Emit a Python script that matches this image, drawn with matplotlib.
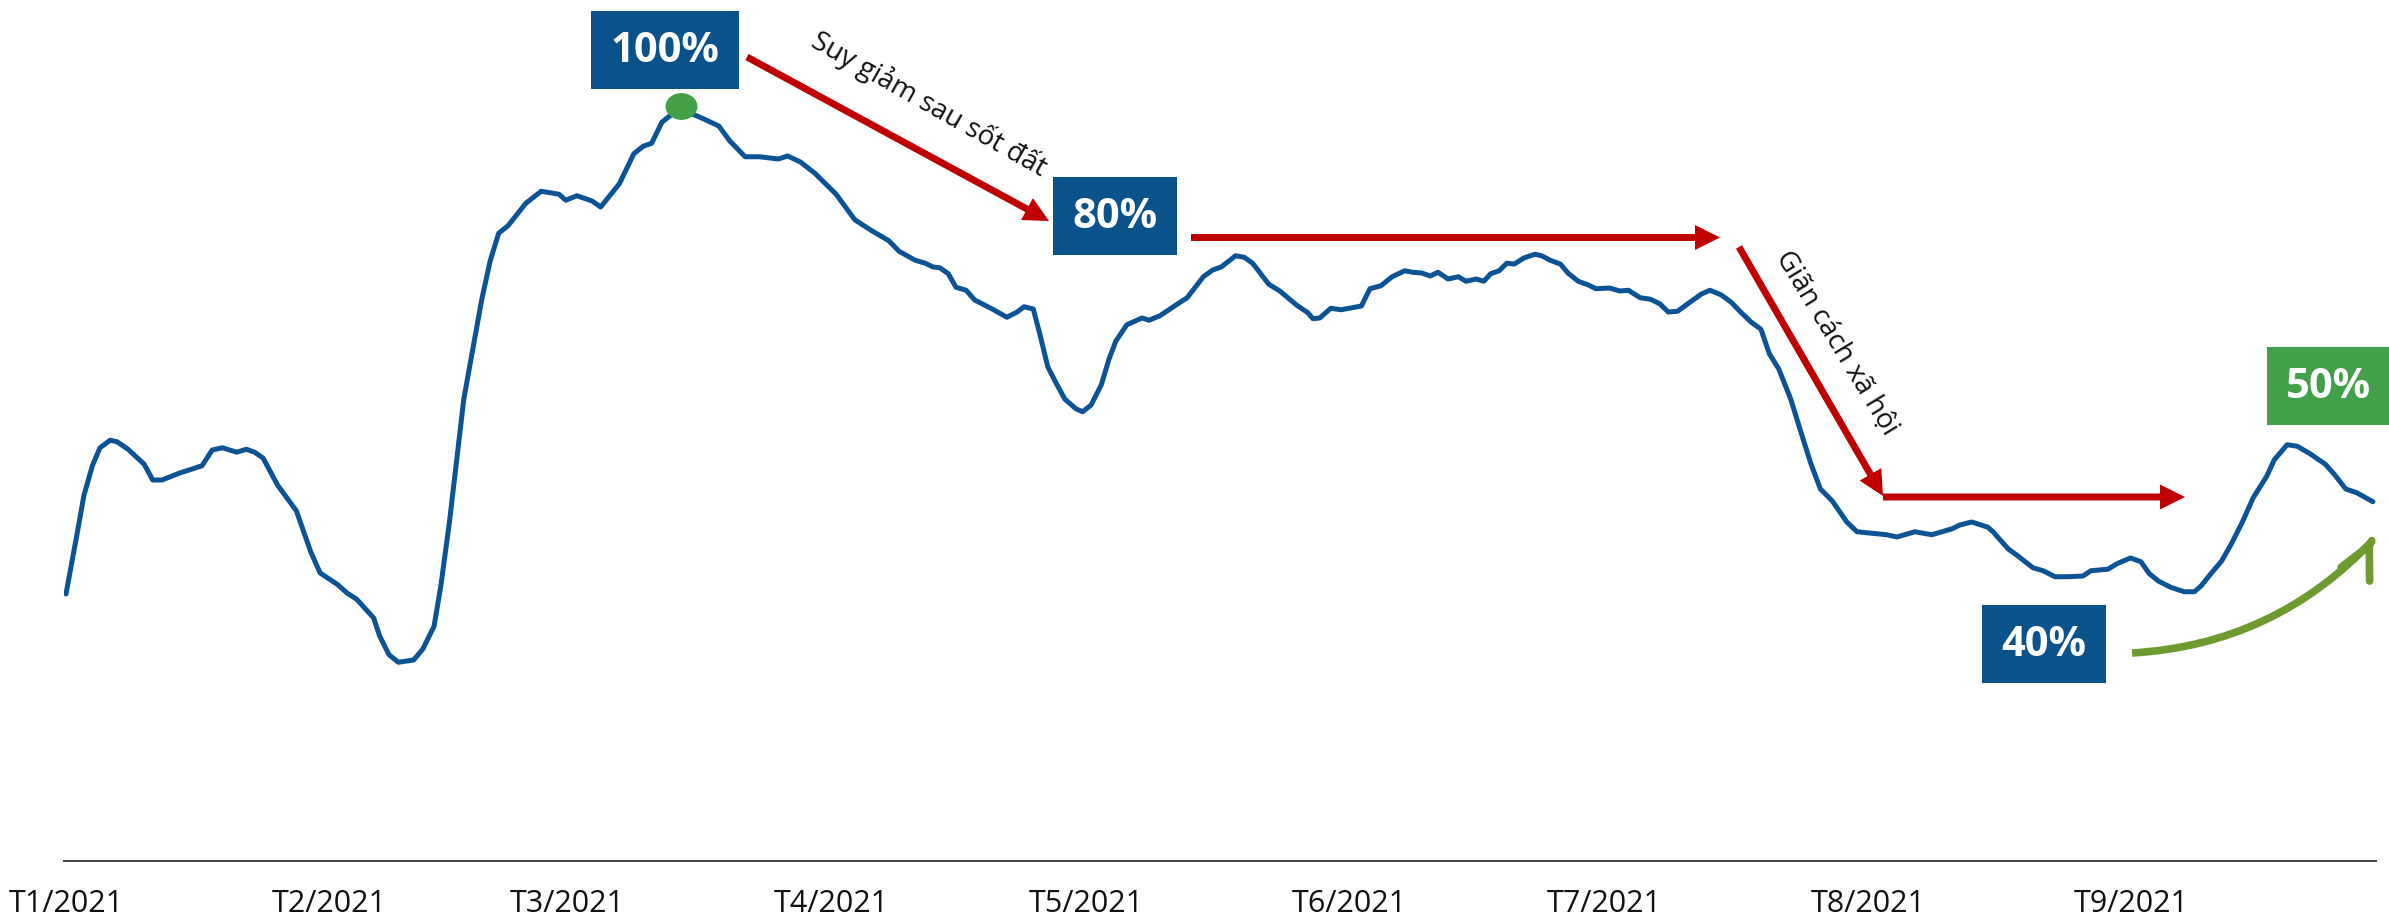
import numpy as np
import matplotlib
matplotlib.use('Agg')
import matplotlib.pyplot as plt
import matplotlib.dates as mdates
import matplotlib.transforms as mtransforms
from matplotlib.patches import Rectangle, FancyArrowPatch
from matplotlib.path import Path
from datetime import datetime

# ---- data (index, peak = 100) ----
days = [0, 1.3, 2.1, 3.1, 4.0, 5.2, 6.0, 7.3, 9.2, 10.2, 11.3, 13.3, 16.0, 17.2, 18.4, 20.1,
        21.2, 22.2, 23.2, 24.9, 27.1, 28.8, 29.9, 31.9, 33.1, 34.2, 36.2, 36.9, 38.0, 39.1,
        40.9, 42.0, 43.3, 44.1, 45.1, 45.9, 46.8, 47.9, 48.9, 49.9, 50.9, 52.0, 54.1, 55.9,
        58.0, 58.8, 60.1, 61.9, 62.9, 65.1, 66.8, 67.9, 68.9, 70.1, 71.2, 72.4, 73.9, 75.1,
        76.8, 78.1, 79.9, 81.6, 83.8, 84.9, 86.4, 88.1, 90.6, 92.8, 94.7, 96.8, 98.0, 99.9,
        101.1, 102.0, 102.8, 103.8, 104.7, 105.9, 106.9, 108.8, 110.7, 111.9, 112.7, 113.8,
        114.6, 115.5, 116.4, 117.5, 118.8, 119.6, 120.6, 121.8, 122.7, 123.5, 124.8, 126.6,
        127.4, 128.7, 130.8, 131.9, 133.8, 134.9, 135.9, 137.6, 138.6, 139.6, 141.5, 142.8,
        144.8, 146.1, 146.7, 147.5, 148.8, 150.0, 152.4, 153.4, 154.7, 156.0, 157.5, 158.4,
        159.5, 160.5, 161.4, 162.6, 163.8, 164.7, 165.9, 166.8, 167.6, 168.6, 169.5, 170.4,
        171.5, 172.8, 173.6, 174.6, 175.8, 176.7, 177.9, 179.1, 180.0, 181.6, 182.8, 183.8,
        185.2, 186.4, 187.5, 188.5, 189.6, 190.8, 192.4, 193.4, 194.7, 195.9, 197.1, 198.2,
        199.4, 200.4, 201.5, 202.9, 204.1, 205.3, 206.4, 207.8, 209.5, 210.7, 212.5, 214.2,
        215.4, 217.5, 219.5, 220.7, 221.9, 222.8, 224.2, 226.1, 226.7, 228.5, 229.6, 231.4,
        232.6, 234.0, 235.5, 237.3, 238.2, 240.2, 241.4, 242.9, 244.1, 245.1, 246.2, 247.6,
        249.2, 250.4, 251.2, 252.4, 253.6, 254.8, 256.0, 257.3, 258.9, 259.8, 261.3, 262.5,
        264.0, 265.8, 266.9, 268.2, 269.5, 271.4]
values = [35.6, 43.6, 48.7, 52.7, 55.1, 56.1, 55.9, 54.9, 52.9, 50.8, 50.8, 51.7, 52.7, 54.8,
          55.1, 54.5, 54.9, 54.5, 53.7, 50.1, 46.7, 41.2, 38.4, 36.9, 35.7, 34.9, 32.4, 30.0,
          27.5, 26.5, 26.8, 28.3, 31.3, 36.7, 45.1, 52.9, 61.6, 68.5, 74.8, 80.0, 83.7, 84.7,
          87.7, 89.3, 88.9, 88.1, 88.7, 88.0, 87.2, 90.3, 94.3, 95.3, 95.7, 98.5, 99.5, 100.1,
          99.5, 98.9, 98.0, 96.0, 93.9, 93.9, 93.6, 94.0, 93.2, 91.7, 88.9, 85.5, 84.1, 82.7,
          81.3, 80.1, 79.7, 79.2, 79.1, 78.3, 76.5, 76.1, 74.8, 73.7, 72.5, 73.2, 73.9, 73.6,
          70.1, 65.9, 63.9, 61.6, 60.3, 59.9, 60.8, 63.5, 66.9, 69.3, 71.5, 72.4, 72.1, 72.7,
          74.3, 75.1, 77.9, 78.8, 79.2, 80.7, 80.5, 79.7, 76.9, 76.0, 74.1, 73.1, 72.3, 72.4,
          73.7, 73.5, 74.0, 76.3, 76.7, 77.9, 78.7, 78.5, 78.4, 78.0, 78.5, 77.6, 77.9, 77.3,
          77.6, 77.3, 78.3, 78.7, 79.7, 79.6, 80.4, 80.9, 80.7, 80.1, 79.6, 78.4, 77.3, 76.8,
          76.3, 76.4, 76.0, 76.1, 75.1, 74.9, 74.3, 73.2, 73.3, 74.3, 75.6, 76.1, 75.5, 74.5,
          73.1, 71.9, 70.9, 67.6, 65.6, 61.6, 57.2, 52.9, 49.6, 48.0, 45.2, 43.9, 43.7, 43.5,
          43.2, 43.9, 43.5, 43.9, 44.3, 44.8, 45.2, 44.5, 43.9, 41.6, 40.7, 39.1, 38.7, 37.9,
          37.9, 38.0, 38.7, 38.9, 39.7, 40.4, 39.9, 38.3, 37.3, 36.5, 35.9, 35.9, 36.7, 38.4,
          40.0, 42.4, 45.1, 48.4, 51.3, 53.5, 55.5, 55.3, 54.3, 52.9, 51.5, 49.6, 49.1, 47.9]
month_labels = ['T1/2021', 'T2/2021', 'T3/2021', 'T4/2021', 'T5/2021',
                'T6/2021', 'T7/2021', 'T8/2021', 'T9/2021']
month_starts = [datetime(2021, m, 1) for m in range(1, 10)]
box_labels = ['100%', '80%', '40%', '50%']
note_labels = ['Suy giảm sau sốt đất', 'Giãn cách xã hội']

# ---- colours ----
LINE = '#0B5394'
BOXBLUE = '#0A528A'
RED = '#C00000'
GREENBOX = '#42A04A'
GREENARR = '#6E9B2F'
TXT = '#111111'

W, H = 2389, 921
fig = plt.figure(figsize=(W / 100, H / 100), dpi=100)
fig.patch.set_facecolor('white')
ax = fig.add_axes([64 / W, 60 / H, (2376 - 64) / W, 1 - 60 / H])

base = mdates.date2num(datetime(2021, 1, 1))
x = base + np.array(days)
y = np.array(values)
ax.plot(x, y, color=LINE, lw=3.6, solid_joinstyle='round', solid_capstyle='round', zorder=3)

# peak marker
i = int(np.argmax(y))
ell = Path.unit_circle().transformed(mtransforms.Affine2D().scale(1, 0.84))
ax.plot(x[i], y[i] + 0.6, marker=ell, ms=23, color='#43A047', mec='none', zorder=4)

ax.set_xlim(base - 0.235, base + 271.76)
ax.set_ylim(0, 114.8)
for s in ['left', 'right', 'top']:
    ax.spines[s].set_visible(False)
ax.spines['bottom'].set_color('#404040')
ax.spines['bottom'].set_linewidth(1.4)
ax.set_yticks([])
ax.set_xticks([mdates.date2num(d) for d in month_starts])
ax.set_xticklabels(month_labels, fontsize=22, family='Open Sans', color=TXT)
ax.tick_params(axis='x', length=0, pad=20)
ax.set_facecolor('white')


def ff(px, py):
    return px / W, 1 - py / H


def box(x0, y0, x1, y1, text, color):
    fx0, fy1 = ff(x0, y1)
    fig.add_artist(Rectangle((fx0, fy1), (x1 - x0) / W, (y1 - y0) / H,
                             transform=fig.transFigure, facecolor=color,
                             edgecolor='none', zorder=5))
    cx, cy = ff((x0 + x1) / 2, (y0 + y1) / 2 + 1)
    fig.text(cx, cy, text, ha='center', va='center', color='white', fontsize=30,
             family='Open Sans', fontweight='bold', zorder=6)


box(591, 11, 739, 89, box_labels[0], BOXBLUE)
box(1053, 177, 1177, 255, box_labels[1], BOXBLUE)
box(1982, 605, 2106, 683, box_labels[2], BOXBLUE)
box(2267, 347, 2391, 425, box_labels[3], GREENBOX)


def red_arrow(p0, p1):
    ax.annotate('', xy=ff(*p1), xycoords='figure fraction',
                xytext=ff(*p0), textcoords='figure fraction',
                arrowprops=dict(facecolor=RED, edgecolor='none', width=5,
                                headwidth=18, headlength=18, shrink=0),
                annotation_clip=False, zorder=5)


red_arrow((747, 57), (1049, 221))
red_arrow((1191, 237.5), (1720, 237.5))
red_arrow((1739, 247), (1883, 496))
red_arrow((1883, 497), (2185, 497))

# green curved arrow
g0 = ff(2132, 653)
g1 = ff(2373, 540)
curve = FancyArrowPatch(g0, g1, transform=fig.transFigure, arrowstyle='-',
                        connectionstyle='arc3,rad=0.2', color=GREENARR, lw=5.5,
                        shrinkA=0, shrinkB=0, capstyle='butt')
fig.add_artist(curve)
ang = np.deg2rad(64)
tip = (2373, 538)
pre = (tip[0] - 3 * np.cos(ang), tip[1] + 3 * np.sin(ang))
head = FancyArrowPatch(ff(*pre), ff(*tip), transform=fig.transFigure,
                       arrowstyle='->,head_length=0.4,head_width=0.2', mutation_scale=57,
                       color=GREENARR, lw=5.5, shrinkA=0, shrinkB=0, capstyle='round',
                       joinstyle='miter')
fig.add_artist(head)

# rotated notes
fig.text(*ff(929, 104), note_labels[0], rotation=-29.5, rotation_mode='anchor',
         ha='center', va='center', fontsize=20, family='Open Sans', color=TXT)
fig.text(*ff(1836, 343), note_labels[1], rotation=-58.6, rotation_mode='anchor',
         ha='center', va='center', fontsize=20, family='Open Sans', color=TXT)

fig.savefig('out.png', dpi=100, facecolor='white')
